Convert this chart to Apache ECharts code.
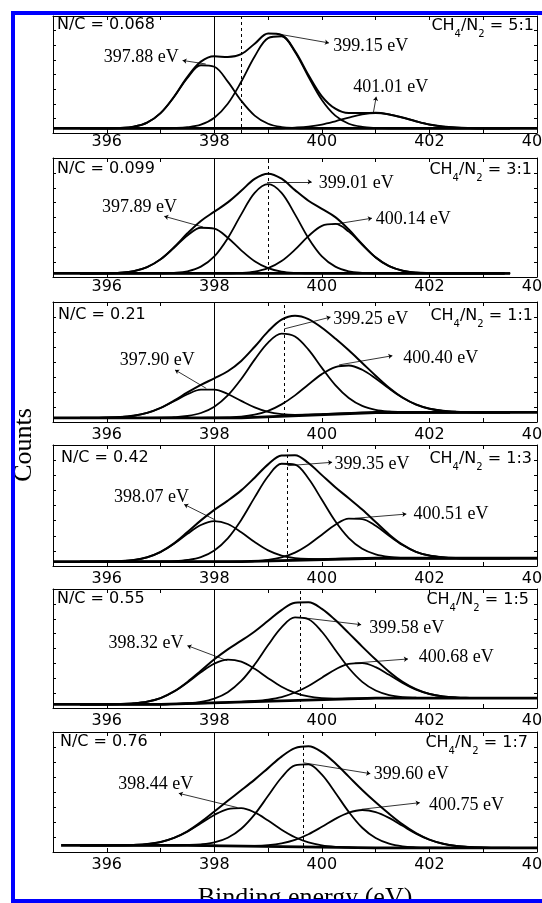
<!DOCTYPE html>
<html>

<head>
    <meta charset="utf-8">
    <title>N 1s spectra</title>
    <script src="https://cdn.jsdelivr.net/npm/echarts@6/dist/echarts.min.js"></script>
    <style>
        html, body { margin: 0; padding: 0; background: #fff; overflow: hidden; }
        #chart { width: 542px; height: 903px; }
    </style>
</head>

<body>
    <div id="chart"></div>

    <script>
        // binding energy grid (eV) shared by every fitted curve
        const energy = [395.5, 395.75, 396, 396.25, 396.5, 396.75, 397, 397.25, 397.5, 397.75,
            398, 398.25, 398.5, 398.75, 399, 399.25, 399.5, 399.75, 400, 400.25,
            400.5, 400.75, 401, 401.25, 401.5, 401.75, 402, 402.25, 402.5, 402.75,
            403, 403.25, 403.5];
        const tickLabels = [396, 398, 400, 402, 404];

        const nOverC = ['N/C = 0.068', 'N/C = 0.099', 'N/C = 0.21', 'N/C = 0.42', 'N/C = 0.55', 'N/C = 0.76'];
        const gasRatio = ['5:1', '3:1', '1:1', '1:3', '1:5', '1:7'];
        const peakNames = [
            ['397.88 eV', '399.15 eV', '401.01 eV'],
            ['397.89 eV', '399.01 eV', '400.14 eV'],
            ['397.90 eV', '399.25 eV', '400.40 eV'],
            ['398.07 eV', '399.35 eV', '400.51 eV'],
            ['398.32 eV', '399.58 eV', '400.68 eV'],
            ['398.44 eV', '399.60 eV', '400.75 eV']
        ];
        const refEnergy = 398;
        const mainPeakLine = [398.5, 399.0, 399.3, 399.35, 399.6, 399.65];

        // counts in % of panel height, one value per energy point
        // CH4/N2 = 5:1
        const p1Low = [4, 4, 4, 4.3, 5.4, 8.9, 17, 30.8, 47.1, 57.9, 56.6, 43.9, 27.6, 14.9, 7.9, 5.1, 4.2, 4, 4, 4, 4, 4, 4, 4, 4, 4, 4, 4, 4, 4, 4, 4, 4];
        const p1Mid = [4, 4, 4, 4, 4, 4, 4, 4.2, 4.9, 7.1, 13, 25, 43.8, 65.4, 81.1, 82.7, 69.3, 48.1, 28.2, 14.8, 7.9, 5.2, 4.3, 4, 4, 4, 4, 4, 4, 4, 4, 4, 4];
        const p1High = [4, 4, 4, 4, 4, 4, 4, 4, 4, 4, 4, 4, 4, 4, 4, 4, 4.6, 5.5, 7.2, 10, 13.2, 15.9, 17, 15.9, 13.2, 10, 7.2, 5.5, 4.6, 4.2, 4, 4, 4];
        const p1Sum = [4, 4, 4, 4.3, 5.4, 8.9, 17, 31, 48, 61, 65.6, 64.9, 67.4, 76.3, 85, 83.8, 70.1, 49.6, 31.4, 20.8, 17.1, 17.1, 17.3, 15.9, 13.2, 10, 7.2, 5.5, 4.6, 4.2, 4, 4, 4];
        const p1BaseX = [395, 404];
        const p1BaseY = [4, 4];

        // CH4/N2 = 3:1
        const p2Low = [3, 3, 3.1, 3.6, 4.9, 8.3, 14.8, 24.5, 34.9, 41.4, 40.6, 33, 22.4, 13.2, 7.4, 4.5, 3.4, 3.1, 3, 3, 3, 3, 3, 3, 3, 3, 3, 3, 3, 3, 3, 3, 3];
        const p2Mid = [3, 3, 3, 3, 3, 3, 3.1, 3.5, 4.8, 8.7, 17.3, 32.6, 52.6, 70.7, 78, 70.7, 52.6, 32.6, 17.3, 8.7, 4.8, 3.5, 3.1, 3, 3, 3, 3, 3, 3, 3, 3, 3, 3];
        const p2High = [3, 3, 3, 3, 3, 3, 3, 3, 3, 3, 3, 3.1, 3.4, 4.5, 7.4, 13.4, 23, 34.4, 43, 44.6, 38.1, 27.1, 16.4, 9.1, 5.3, 3.7, 3.2, 3, 3, 3, 3, 3, 3];
        const p2Sum = [3, 3, 3.1, 3.6, 4.9, 8.3, 14.9, 25, 36.7, 47.1, 54.9, 62.7, 72.4, 82.4, 86.8, 82.6, 73, 64.1, 57.3, 50.3, 39.9, 27.6, 16.5, 9.1, 5.3, 3.7, 3.2, 3, 3, 3, 3, 3, 3];
        const p2BaseX = [395, 403.4];
        const p2BaseY = [3, 3];

        // CH4/N2 = 1:1
        const p3Low = [3.5, 3.5, 3.7, 4.1, 5.2, 7.6, 11.7, 17.3, 23.1, 26.9, 27, 23.3, 17.6, 12.2, 8.4, 6.6, 6, 6.2, 6.5, 7, 7.4, 7.7, 7.9, 8, 8, 8, 8, 8, 8, 8, 8, 8, 8];
        const p3Mid = [3.5, 3.5, 3.5, 3.5, 3.5, 3.5, 3.6, 4, 5, 7.5, 12.8, 22.2, 35.9, 52, 66.2, 73.6, 71.2, 60.3, 45.1, 30.7, 20, 13.4, 10.2, 8.8, 8.2, 8, 8, 8, 8, 8, 8, 8, 8];
        const p3High = [3.5, 3.5, 3.5, 3.5, 3.5, 3.5, 3.5, 3.5, 3.5, 3.5, 3.6, 3.8, 4.4, 6.1, 9.3, 14.7, 22.2, 31.3, 39.9, 45.8, 47.1, 43.5, 36.3, 27.8, 20.2, 14.6, 11.1, 9.3, 8.5, 8.2, 8, 8, 8];
        const p3Sum = [3.5, 3.5, 3.7, 4.1, 5.2, 7.6, 11.8, 17.8, 24.6, 30.9, 36.4, 42.3, 50.9, 62.7, 75.5, 85.3, 88.6, 85.8, 78.5, 69.5, 59.7, 49.2, 38.6, 28.6, 20.4, 14.6, 11.1, 9.3, 8.5, 8.2, 8, 8, 8];
        const p3BaseX = [395, 398.5, 401, 404];
        const p3BaseY = [3.5, 3.5, 7.9, 8];

        // CH4/N2 = 1:3
        const p4Low = [3.6, 3.6, 3.7, 4, 4.9, 7.2, 11.5, 18.3, 26.6, 33.9, 37.1, 34.7, 27.9, 19.8, 12.9, 8.6, 6.5, 5.8, 5.7, 5.9, 6.1, 6.3, 6.4, 6.4, 6.4, 6.4, 6.4, 6.4, 6.4, 6.4, 6.4, 6.4, 6.4];
        const p4Mid = [3.6, 3.6, 3.6, 3.6, 3.6, 3.6, 3.7, 4, 5, 7.4, 12.9, 22.9, 38.1, 56.7, 74.2, 84.5, 83.8, 72.3, 54.7, 36.9, 23, 14.2, 9.6, 7.5, 6.7, 6.4, 6.4, 6.4, 6.4, 6.4, 6.4, 6.4, 6.4];
        const p4High = [3.6, 3.6, 3.6, 3.6, 3.6, 3.6, 3.6, 3.6, 3.6, 3.6, 3.6, 3.6, 3.7, 4.1, 5.1, 7.2, 11.1, 17.6, 25.9, 34.1, 39.1, 38.8, 33.2, 25, 17.3, 11.7, 8.6, 7.2, 6.6, 6.4, 6.4, 6.4, 6.4];
        const p4Sum = [3.6, 3.6, 3.7, 4, 4.9, 7.2, 11.6, 18.7, 28, 37.7, 46.4, 54, 62.5, 73, 84, 91.3, 91.6, 85.1, 75.1, 65.1, 56, 46.7, 36.4, 26.1, 17.6, 11.7, 8.6, 7.2, 6.6, 6.4, 6.4, 6.4, 6.4];
        const p4BaseX = [395, 398.5, 401, 404];
        const p4BaseY = [3.6, 3.6, 6.4, 6.4];

        // CH4/N2 = 1:5
        const p5Low = [3, 3, 3.1, 3.3, 3.9, 5.3, 8.3, 13.8, 21.5, 30, 37.3, 40.7, 38.9, 32.9, 25.1, 17.9, 12.7, 9.7, 8.3, 7.9, 8, 8.1, 8.3, 8.3, 8.3, 8.3, 8.3, 8.3, 8.3, 8.3, 8.3, 8.3, 8.3];
        const p5Mid = [3, 3, 3, 3, 3, 3, 3, 3.4, 4, 5.2, 7.9, 13.3, 22.7, 36.5, 52.9, 67.8, 76.1, 74.6, 64.1, 48.8, 33.6, 22, 14.7, 10.9, 9.2, 8.6, 8.3, 8.3, 8.3, 8.3, 8.3, 8.3, 8.3];
        const p5High = [3, 3, 3, 3, 3, 3, 3, 3.3, 3.6, 3.9, 4.3, 4.7, 5.2, 5.9, 7.1, 9.2, 13, 18.5, 25.5, 32.4, 37.1, 37.7, 34.3, 27.9, 21.1, 15.5, 11.8, 9.7, 8.8, 8.5, 8.3, 8.3, 8.3];
        const p5Sum = [3, 3, 3.1, 3.3, 3.9, 5.3, 8.3, 13.9, 21.9, 31.3, 40.9, 49.3, 56.6, 64.3, 73.3, 82.3, 88.4, 88.8, 83.3, 73.9, 62.9, 51.6, 40.7, 30.5, 22, 15.8, 11.8, 9.7, 8.8, 8.5, 8.3, 8.3, 8.3];
        const p5BaseX = [395, 397, 401, 404];
        const p5BaseY = [3, 3, 8.3, 8.3];

        // CH4/N2 = 1:7
        const p6Low = [5.5, 5.5, 5.5, 5.6, 5.9, 6.6, 8.3, 11.7, 17, 23.9, 30.9, 35.8, 36.6, 33, 26.2, 18.6, 12.3, 8, 5.5, 4.3, 3.8, 3.5, 3.5, 3.5, 3.5, 3.5, 3.5, 3.5, 3.5, 3.5, 3.5, 3.5, 3.5];
        const p6Mid = [5.5, 5.5, 5.5, 5.5, 5.5, 5.5, 5.5, 5.6, 5.8, 6.4, 8, 11.9, 19.4, 31.4, 46.8, 62.1, 72.2, 73.1, 64.4, 49.4, 33.4, 20.2, 11.6, 6.9, 4.7, 3.9, 3.6, 3.5, 3.5, 3.5, 3.5, 3.5, 3.5];
        const p6High = [5.5, 5.5, 5.5, 5.5, 5.5, 5.5, 5.5, 5.5, 5.5, 5.4, 5.2, 5, 5, 5.1, 5.7, 7.2, 10.1, 14.8, 21, 27.6, 32.8, 35, 33.3, 28.4, 21.8, 15.3, 10.2, 6.9, 5, 4.1, 3.7, 3.5, 3.5];
        const p6Sum = [5.5, 5.5, 5.5, 5.6, 5.9, 6.6, 8.3, 11.8, 17.3, 24.9, 33.7, 42.7, 51.4, 60.3, 69.9, 79.5, 86.6, 88.1, 83.3, 73.9, 62.8, 51.7, 41.4, 31.8, 23, 15.7, 10.3, 6.9, 5, 4.1, 3.7, 3.5, 3.5];
        const p6BaseX = [395.15, 397.5, 401, 404];
        const p6BaseY = [5.5, 5.5, 3.5, 3.5];

        const lows = [p1Low, p2Low, p3Low, p4Low, p5Low, p6Low];
        const mids = [p1Mid, p2Mid, p3Mid, p4Mid, p5Mid, p6Mid];
        const highs = [p1High, p2High, p3High, p4High, p5High, p6High];
        const sums = [p1Sum, p2Sum, p3Sum, p4Sum, p5Sum, p6Sum];
        const baseX = [p1BaseX, p2BaseX, p3BaseX, p4BaseX, p5BaseX, p6BaseX];
        const baseY = [p1BaseY, p2BaseY, p3BaseY, p4BaseY, p5BaseY, p6BaseY];

        // layout
        const gridTop = [16, 158, 302, 445, 589, 732];
        const gridH = [117, 119, 120, 121, 119, 120];
        const labelMargin = [1, 2, 5, 5, 5, 5];
        const headY = [20, 164, 310, 453, 594, 737];
        const ncX = [57, 57, 58, 61, 57, 60];
        const ratioRight = [534, 532, 533, 532, 529, 528];
        // where the peak notes sit (eV, % of panel)
        const notePos = [
            [[396.64, 65], [400.91, 74], [401.28, 39]],
            [[396.61, 59], [400.64, 79], [401.70, 48.6]],
            [[396.94, 51.8], [400.91, 85.4], [402.21, 53.2]],
            [[396.83, 56.6], [400.93, 83.7], [402.40, 43.1]],
            [[396.73, 54.6], [401.58, 66.7], [402.50, 42.9]],
            [[396.91, 56.4], [401.66, 64.7], [402.69, 39.2]]
        ];
        const arrowPos = [
            [[[397.84, 59], [397.41, 62]], [[399.14, 85], [400.13, 77]], [[400.96, 18], [401.01, 31]]],
            [[[397.79, 42], [397.07, 51]], [[398.98, 80], [399.81, 80]], [[400.19, 44], [400.93, 49.4]]],
            [[[397.85, 28], [397.27, 43.4]], [[399.30, 77.6], [400.16, 87.4]], [[400.32, 47.6], [401.31, 55.2]]],
            [[[398.02, 38], [397.44, 50.9]], [[399.36, 82.9], [400.19, 85.7]], [[400.61, 39.4], [401.57, 42.9]]],
            [[[398.24, 39.8], [397.50, 52.4]], [[399.58, 76.2], [400.73, 70]], [[400.61, 37.8], [401.60, 41.2]]],
            [[[398.43, 37], [397.34, 48.9]], [[399.65, 74.4], [400.90, 65.3]], [[400.74, 35.6], [401.82, 41.1]]]
        ];

        const sans = '"DejaVu Sans", sans-serif';
        const serif = '"Liberation Serif", "DejaVu Serif", serif';
        const black = '#000';

        const grids = [], xAxes = [], yAxes = [], series = [], graphics = [];

        for (let p = 0; p < 6; p++) {
            grids.push({
                left: 53, width: 484, top: gridTop[p], height: gridH[p],
                containLabel: false, outerBoundsMode: 'none'
            });

            const tick = { inside: true, length: 4, lineStyle: { color: black, width: 1 } };
            const line = { show: true, onZero: false, lineStyle: { color: black, width: 1 } };
            xAxes.push({
                type: 'value', gridIndex: p, min: 395, max: 404, interval: 1,
                axisLine: line, axisTick: tick, splitLine: { show: false },
                axisLabel: {
                    margin: labelMargin[p], color: black, fontFamily: sans, fontSize: 16,
                    hideOverlap: false,
                    formatter: v => tickLabels.includes(v) ? String(v) : ''
                }
            });
            xAxes.push({
                type: 'value', gridIndex: p, position: 'top', min: 395, max: 404, interval: 1,
                axisLine: line, axisTick: tick, splitLine: { show: false }, axisLabel: { show: false }
            });
            const yTick = { inside: true, length: 3, lineStyle: { color: black, width: 1 } };
            yAxes.push({
                type: 'value', gridIndex: p, min: 0, max: 100, interval: 12.5,
                axisLine: line, axisTick: yTick, splitLine: { show: false }, axisLabel: { show: false }
            });
            yAxes.push({
                type: 'value', gridIndex: p, position: 'right', min: 0, max: 100, interval: 12.5,
                axisLine: line, axisTick: yTick, splitLine: { show: false }, axisLabel: { show: false }
            });

            const axes = { xAxisIndex: 2 * p, yAxisIndex: 2 * p };

            // background line plus the two vertical guides
            series.push(Object.assign({
                type: 'line', symbol: 'none', silent: true, z: 3,
                data: baseX[p].map((e, i) => [e, baseY[p][i]]),
                lineStyle: { color: black, width: 2.8 },
                markLine: {
                    silent: true, symbol: 'none', label: { show: false },
                    lineStyle: { color: black, width: 1, type: 'solid' },
                    data: [
                        { xAxis: refEnergy },
                        { xAxis: mainPeakLine[p], lineStyle: { type: [3, 3], width: 1 } }
                    ]
                }
            }, axes));

            [lows[p], mids[p], highs[p]].forEach(vals => {
                series.push(Object.assign({
                    type: 'line', symbol: 'none', silent: true, smooth: 0.35, z: 4,
                    data: energy.map((e, i) => [e, vals[i]]),
                    lineStyle: { color: black, width: 1.8 }
                }, axes));
            });

            // envelope, carrying the pointer arrows
            series.push(Object.assign({
                type: 'line', symbol: 'none', silent: true, smooth: 0.35, z: 5,
                data: energy.map((e, i) => [e, sums[p][i]]),
                lineStyle: { color: black, width: 2 },
                markLine: {
                    silent: true, symbol: ['none', 'arrow'], symbolSize: 4, label: { show: false },
                    lineStyle: { color: black, width: 0.8, type: 'solid' },
                    data: arrowPos[p].map(a => [{ coord: a[0] }, { coord: a[1] }])
                }
            }, axes));

            series.push(Object.assign({
                type: 'scatter', symbolSize: 0, silent: true, z: 6,
                itemStyle: { opacity: 1, color: black },
                data: notePos[p].map((pos, k) => [pos[0], pos[1], peakNames[p][k]]),
                label: {
                    show: true, position: 'inside', color: black, opacity: 1,
                    fontFamily: serif, fontSize: 18,
                    textBorderWidth: 0, textShadowBlur: 0,
                    formatter: d => d.value[2]
                }
            }, axes));

            graphics.push({
                type: 'text', x: ncX[p], y: headY[p] - 3, z: 10,
                style: { text: nOverC[p], font: '16px ' + sans, fill: black, textAlign: 'left', textVerticalAlign: 'top' }
            });
            graphics.push({
                type: 'text', x: ratioRight[p], y: headY[p] - 7, z: 10,
                style: {
                    text: '{a|CH}{s|4}{a|/N}{s|2}{a| = ' + gasRatio[p] + '}',
                    textAlign: 'right', textVerticalAlign: 'top', fill: black,
                    rich: {
                        a: { fontFamily: sans, fontSize: 16, fill: black },
                        s: { fontFamily: sans, fontSize: 10, fill: black, padding: [16, 0, 0, 0] }
                    }
                }
            });
        }

        graphics.push({
            type: 'text', x: 24, y: 445, rotation: Math.PI / 2, z: 10,
            style: { text: 'Counts', font: '26px ' + serif, fill: black, textAlign: 'center', textVerticalAlign: 'middle' }
        });
        graphics.push({
            type: 'text', x: 305, y: 898, z: 10,
            style: { text: 'Binding energy (eV)', font: '26px ' + serif, fill: black, textAlign: 'center', textVerticalAlign: 'middle' }
        });
        // blue frame of the original figure
        graphics.push({ type: 'rect', z: 100, shape: { x: 11, y: 11, width: 4, height: 892 }, style: { fill: '#0000ff' } });
        graphics.push({ type: 'rect', z: 100, shape: { x: 11, y: 11, width: 531, height: 4 }, style: { fill: '#0000ff' } });
        graphics.push({ type: 'rect', z: 100, shape: { x: 11, y: 899, width: 531, height: 4 }, style: { fill: '#0000ff' } });

        const myChart = echarts.init(document.getElementById('chart'));
        myChart.setOption({
            animation: false,
            backgroundColor: '#fff',
            grid: grids,
            xAxis: xAxes,
            yAxis: yAxes,
            series: series,
            graphic: graphics
        });
    </script>
</body>

</html>
